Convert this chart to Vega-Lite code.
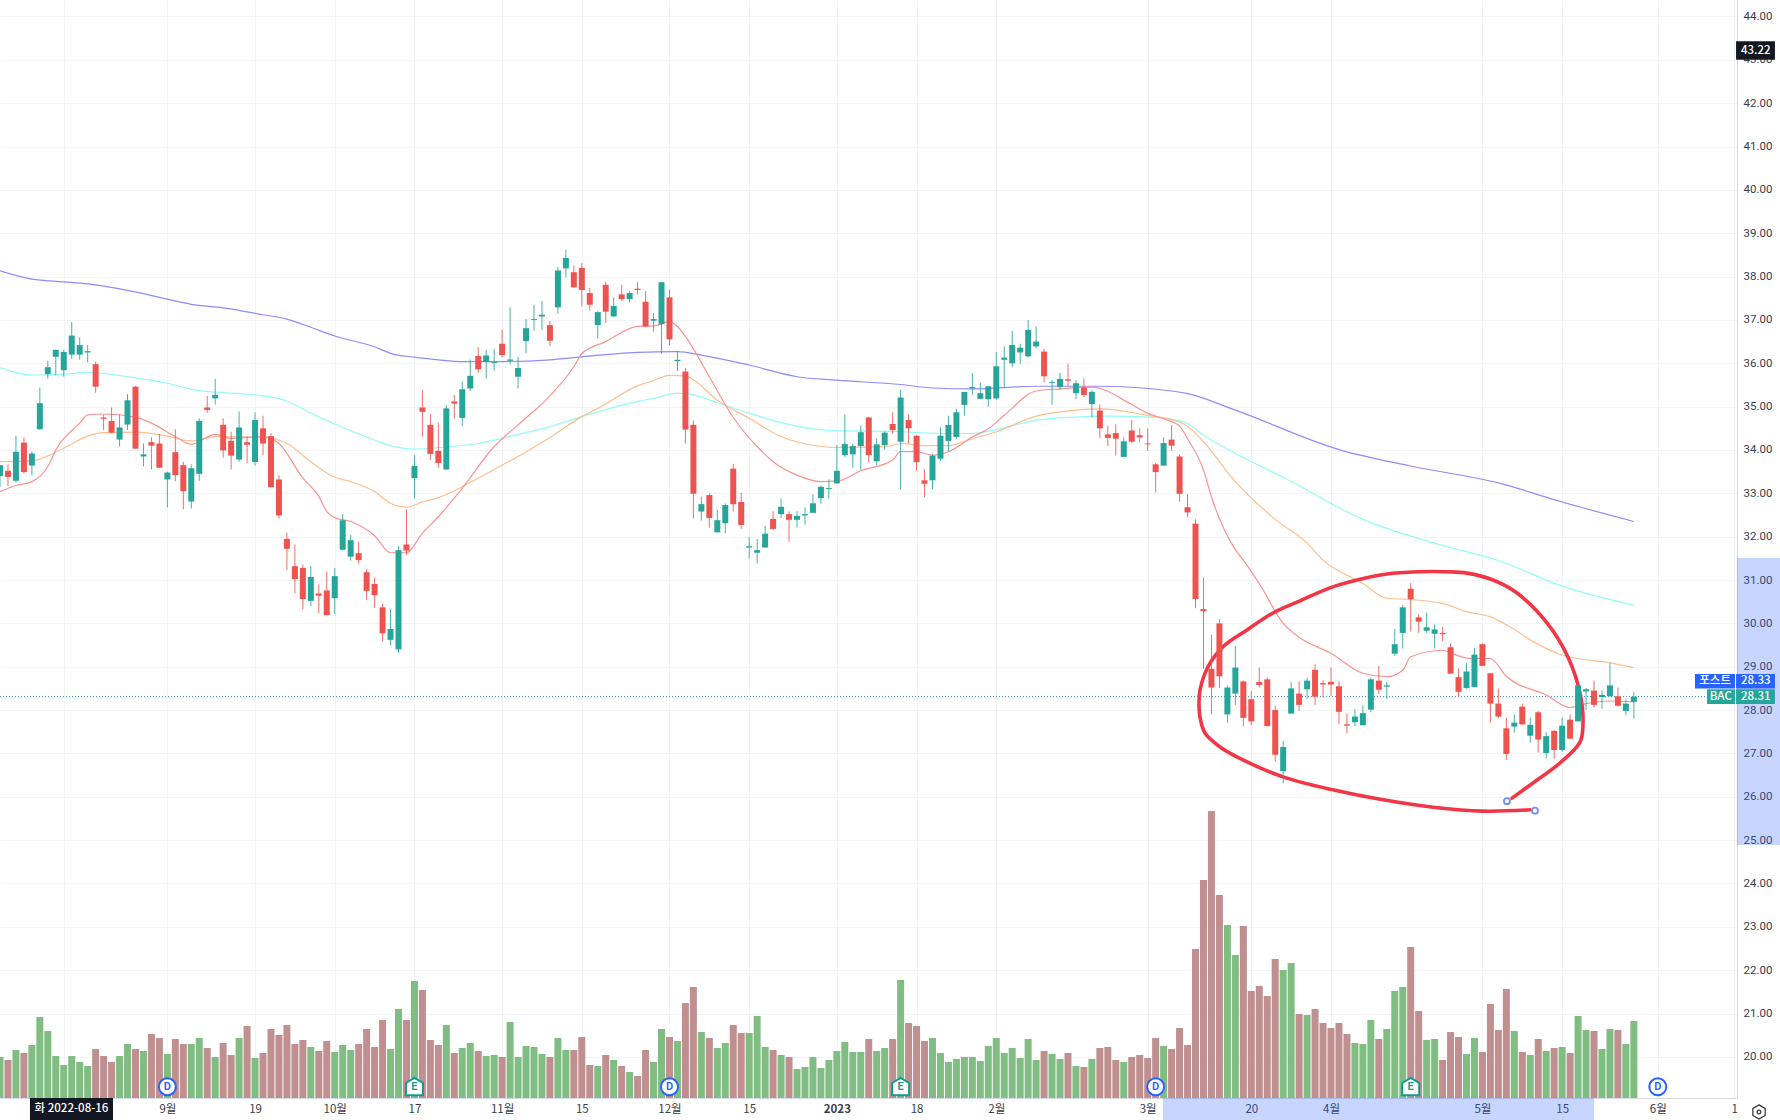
{"$schema":"https://vega.github.io/schema/vega-lite/v6.json","width":1737,"height":1098,"autosize":"none","padding":{"left":0,"top":0,"right":43,"bottom":22},"background":"#ffffff","config":{"view":{"stroke":null}},
"datasets":{
"bars":[
{"i":0,"o":33.40,"c":33.65,"h":33.65,"l":33.15,"v":41},{"i":1,"o":33.52,"c":33.38,"h":33.67,"l":33.17,"v":38},{"i":2,"o":33.29,"c":33.96,"h":34.33,"l":33.25,"v":48},{"i":3,"o":34.17,"c":33.49,"h":34.29,"l":33.46,"v":45},{"i":4,"o":33.64,"c":33.92,"h":33.96,"l":33.42,"v":53},{"i":5,"o":34.48,"c":35.08,"h":35.44,"l":34.46,"v":81},{"i":6,"o":35.75,"c":35.91,"h":36.06,"l":35.65,"v":67},{"i":7,"o":36.15,"c":36.31,"h":36.31,"l":35.72,"v":42},{"i":8,"o":35.84,"c":36.26,"h":36.31,"l":35.69,"v":33},{"i":9,"o":36.20,"c":36.64,"h":36.95,"l":36.10,"v":42},
{"i":10,"o":36.20,"c":36.42,"h":36.60,"l":36.08,"v":36},{"i":11,"o":36.25,"c":36.28,"h":36.42,"l":36.02,"v":32},{"i":12,"o":35.98,"c":35.46,"h":36.04,"l":35.32,"v":49},{"i":13,"o":34.75,"c":34.72,"h":34.81,"l":34.46,"v":42},{"i":14,"o":34.67,"c":34.40,"h":34.98,"l":34.38,"v":36},{"i":15,"o":34.24,"c":34.52,"h":34.81,"l":34.08,"v":42},{"i":16,"o":34.59,"c":35.15,"h":35.29,"l":34.46,"v":54},{"i":17,"o":35.46,"c":34.03,"h":35.48,"l":34.03,"v":49},{"i":18,"o":33.85,"c":33.90,"h":34.15,"l":33.62,"v":47},{"i":19,"o":34.18,"c":34.10,"h":34.29,"l":33.55,"v":64},
{"i":20,"o":34.15,"c":33.59,"h":34.37,"l":33.59,"v":60},{"i":21,"o":33.32,"c":33.48,"h":33.50,"l":32.68,"v":44},{"i":22,"o":33.95,"c":33.42,"h":34.48,"l":33.28,"v":59},{"i":23,"o":33.65,"c":33.05,"h":33.73,"l":32.63,"v":54},{"i":24,"o":32.81,"c":33.58,"h":33.67,"l":32.65,"v":54},{"i":25,"o":33.45,"c":34.67,"h":34.73,"l":33.29,"v":60},{"i":26,"o":34.98,"c":34.92,"h":35.25,"l":34.86,"v":50},{"i":27,"o":35.19,"c":35.27,"h":35.64,"l":35.05,"v":41},{"i":28,"o":34.58,"c":33.99,"h":34.73,"l":33.82,"v":55},{"i":29,"o":34.21,"c":33.87,"h":34.42,"l":33.55,"v":43},
{"i":30,"o":33.78,"c":34.52,"h":34.89,"l":33.73,"v":60},{"i":31,"o":34.18,"c":34.12,"h":34.31,"l":33.69,"v":72},{"i":32,"o":33.72,"c":34.69,"h":34.87,"l":33.64,"v":40},{"i":33,"o":34.50,"c":34.15,"h":34.79,"l":33.88,"v":45},{"i":34,"o":34.32,"c":33.14,"h":34.39,"l":33.14,"v":69},{"i":35,"o":33.32,"c":32.49,"h":33.42,"l":32.42,"v":63},{"i":36,"o":31.95,"c":31.72,"h":32.09,"l":31.23,"v":73},{"i":37,"o":31.32,"c":31.02,"h":31.82,"l":30.69,"v":54},{"i":38,"o":31.28,"c":30.56,"h":31.36,"l":30.32,"v":58},{"i":39,"o":30.52,"c":31.07,"h":31.32,"l":30.40,"v":51},
{"i":40,"o":30.69,"c":30.64,"h":30.90,"l":30.23,"v":47},{"i":41,"o":30.76,"c":30.19,"h":31.20,"l":30.19,"v":57},{"i":42,"o":30.58,"c":31.09,"h":31.28,"l":30.21,"v":46},{"i":43,"o":31.70,"c":32.38,"h":32.52,"l":31.68,"v":53},{"i":44,"o":31.54,"c":31.92,"h":32.04,"l":31.45,"v":48},{"i":45,"o":31.62,"c":31.46,"h":31.88,"l":31.38,"v":54},{"i":46,"o":31.18,"c":30.75,"h":31.25,"l":30.54,"v":69},{"i":47,"o":30.91,"c":30.65,"h":31.05,"l":30.36,"v":51},{"i":48,"o":30.37,"c":29.77,"h":30.46,"l":29.58,"v":78},{"i":49,"o":29.62,"c":29.87,"h":30.33,"l":29.50,"v":49},
{"i":50,"o":29.40,"c":31.69,"h":31.78,"l":29.32,"v":89},{"i":51,"o":31.82,"c":31.68,"h":32.63,"l":31.58,"v":78},{"i":52,"o":33.35,"c":33.63,"h":33.88,"l":32.88,"v":117},{"i":53,"o":34.98,"c":34.88,"h":35.38,"l":34.31,"v":108},{"i":54,"o":34.58,"c":33.91,"h":34.83,"l":33.77,"v":58},{"i":55,"o":33.98,"c":33.70,"h":34.63,"l":33.59,"v":53},{"i":56,"o":33.55,"c":34.96,"h":35.04,"l":33.55,"v":73},{"i":57,"o":35.12,"c":35.07,"h":35.27,"l":34.72,"v":45},{"i":58,"o":34.74,"c":35.40,"h":35.58,"l":34.55,"v":50},{"i":59,"o":35.42,"c":35.71,"h":36.09,"l":35.36,"v":55},
{"i":60,"o":36.17,"c":35.86,"h":36.37,"l":35.77,"v":47},{"i":61,"o":36.03,"c":36.18,"h":36.31,"l":35.65,"v":42},{"i":62,"o":36.01,"c":36.03,"h":36.33,"l":35.82,"v":43},{"i":63,"o":36.45,"c":36.19,"h":36.77,"l":36.13,"v":41},{"i":64,"o":36.06,"c":36.09,"h":37.29,"l":35.97,"v":76},{"i":65,"o":35.69,"c":35.89,"h":36.15,"l":35.42,"v":41},{"i":66,"o":36.51,"c":36.81,"h":37.02,"l":36.23,"v":52},{"i":67,"o":37.00,"c":37.02,"h":37.35,"l":36.75,"v":51},{"i":68,"o":37.08,"c":37.12,"h":37.44,"l":36.77,"v":44},{"i":69,"o":36.88,"c":36.52,"h":36.98,"l":36.40,"v":41},
{"i":70,"o":37.29,"c":38.14,"h":38.22,"l":37.14,"v":60},{"i":71,"o":38.19,"c":38.43,"h":38.62,"l":37.98,"v":48},{"i":72,"o":38.10,"c":37.75,"h":38.26,"l":37.75,"v":48},{"i":73,"o":38.20,"c":37.69,"h":38.31,"l":37.31,"v":61},{"i":74,"o":37.62,"c":37.35,"h":37.74,"l":37.21,"v":33},{"i":75,"o":36.88,"c":37.18,"h":37.21,"l":36.57,"v":32},{"i":76,"o":37.81,"c":37.19,"h":37.88,"l":36.93,"v":43},{"i":77,"o":37.08,"c":37.32,"h":37.52,"l":37.08,"v":38},{"i":78,"o":37.59,"c":37.48,"h":37.81,"l":37.44,"v":32},{"i":79,"o":37.48,"c":37.62,"h":37.66,"l":37.40,"v":26},
{"i":80,"o":37.72,"c":37.69,"h":37.87,"l":37.58,"v":22},{"i":81,"o":37.42,"c":36.85,"h":37.66,"l":36.85,"v":48},{"i":82,"o":36.98,"c":37.02,"h":37.15,"l":36.73,"v":36},{"i":83,"o":36.90,"c":37.87,"h":37.87,"l":36.22,"v":69},{"i":84,"o":37.52,"c":36.55,"h":37.70,"l":36.42,"v":61},{"i":85,"o":36.05,"c":36.08,"h":36.28,"l":35.82,"v":57},{"i":86,"o":35.81,"c":34.47,"h":35.89,"l":34.15,"v":95},{"i":87,"o":34.58,"c":32.99,"h":34.68,"l":32.42,"v":111},{"i":88,"o":32.58,"c":32.75,"h":32.92,"l":32.37,"v":66},{"i":89,"o":32.96,"c":32.43,"h":33.00,"l":32.21,"v":60},
{"i":90,"o":32.10,"c":32.38,"h":32.62,"l":32.10,"v":50},{"i":91,"o":32.31,"c":32.73,"h":32.77,"l":32.08,"v":55},{"i":92,"o":33.57,"c":32.75,"h":33.68,"l":32.58,"v":73},{"i":93,"o":32.80,"c":32.27,"h":33.01,"l":32.18,"v":65},{"i":94,"o":31.75,"c":31.78,"h":31.99,"l":31.49,"v":65},{"i":95,"o":31.63,"c":31.69,"h":31.95,"l":31.38,"v":82},{"i":96,"o":31.75,"c":32.07,"h":32.25,"l":31.75,"v":51},{"i":97,"o":32.41,"c":32.18,"h":32.59,"l":32.16,"v":48},{"i":98,"o":32.52,"c":32.69,"h":32.88,"l":32.43,"v":43},{"i":99,"o":32.52,"c":32.39,"h":32.58,"l":31.88,"v":41},
{"i":100,"o":32.39,"c":32.48,"h":32.59,"l":32.21,"v":29},{"i":101,"o":32.49,"c":32.52,"h":32.68,"l":32.28,"v":31},{"i":102,"o":32.55,"c":32.77,"h":32.98,"l":32.55,"v":41},{"i":103,"o":32.89,"c":33.15,"h":33.18,"l":32.76,"v":30},{"i":104,"o":33.10,"c":33.12,"h":33.32,"l":32.88,"v":38},{"i":105,"o":33.23,"c":33.52,"h":34.11,"l":33.22,"v":47},{"i":106,"o":33.88,"c":34.14,"h":34.82,"l":33.84,"v":56},{"i":107,"o":33.90,"c":34.09,"h":34.15,"l":33.59,"v":46},{"i":108,"o":34.09,"c":34.41,"h":34.57,"l":33.54,"v":46},{"i":109,"o":34.75,"c":33.88,"h":34.76,"l":33.71,"v":59},
{"i":110,"o":33.74,"c":34.13,"h":34.26,"l":33.65,"v":47},{"i":111,"o":34.11,"c":34.40,"h":34.43,"l":34.01,"v":50},{"i":112,"o":34.60,"c":34.46,"h":34.87,"l":34.38,"v":59},{"i":113,"o":34.19,"c":35.21,"h":35.39,"l":33.09,"v":118},{"i":114,"o":34.69,"c":34.50,"h":34.82,"l":34.15,"v":75},{"i":115,"o":34.33,"c":33.72,"h":34.35,"l":33.52,"v":72},{"i":116,"o":33.30,"c":33.22,"h":33.56,"l":32.91,"v":57},{"i":117,"o":33.30,"c":33.87,"h":33.90,"l":33.10,"v":60},{"i":118,"o":33.80,"c":34.33,"h":34.52,"l":33.75,"v":45},{"i":119,"o":34.21,"c":34.58,"h":34.79,"l":33.96,"v":36},
{"i":120,"o":34.30,"c":34.87,"h":34.95,"l":34.26,"v":39},{"i":121,"o":35.04,"c":35.34,"h":35.34,"l":34.79,"v":41},{"i":122,"o":35.42,"c":35.45,"h":35.78,"l":35.27,"v":41},{"i":123,"o":35.18,"c":35.31,"h":35.55,"l":35.17,"v":37},{"i":124,"o":35.17,"c":35.47,"h":35.47,"l":35.00,"v":52},{"i":125,"o":35.19,"c":35.93,"h":36.26,"l":35.16,"v":60},{"i":126,"o":36.08,"c":36.13,"h":36.39,"l":35.44,"v":45},{"i":127,"o":36.00,"c":36.42,"h":36.75,"l":35.91,"v":50},{"i":128,"o":36.25,"c":36.36,"h":36.45,"l":35.99,"v":40},{"i":129,"o":36.16,"c":36.77,"h":37.00,"l":36.13,"v":59},
{"i":130,"o":36.39,"c":36.50,"h":36.85,"l":36.35,"v":38},{"i":131,"o":36.27,"c":35.70,"h":36.33,"l":35.56,"v":47},{"i":132,"o":35.55,"c":35.57,"h":35.61,"l":35.04,"v":44},{"i":133,"o":35.45,"c":35.64,"h":35.78,"l":35.39,"v":39},{"i":134,"o":35.63,"c":35.60,"h":35.99,"l":35.47,"v":45},{"i":135,"o":35.31,"c":35.54,"h":35.61,"l":35.17,"v":32},{"i":136,"o":35.44,"c":35.27,"h":35.65,"l":35.22,"v":31},{"i":137,"o":35.06,"c":35.34,"h":35.38,"l":34.76,"v":39},{"i":138,"o":34.91,"c":34.50,"h":35.05,"l":34.28,"v":50},{"i":139,"o":34.36,"c":34.28,"h":34.56,"l":34.09,"v":51},
{"i":140,"o":34.39,"c":34.26,"h":34.59,"l":33.87,"v":38},{"i":141,"o":33.84,"c":34.20,"h":34.29,"l":33.84,"v":36},{"i":142,"o":34.45,"c":34.19,"h":34.69,"l":34.16,"v":41},{"i":143,"o":34.34,"c":34.29,"h":34.50,"l":34.18,"v":43},{"i":144,"o":34.15,"c":34.13,"h":34.50,"l":33.98,"v":40},{"i":145,"o":33.67,"c":33.49,"h":33.70,"l":33.02,"v":60},{"i":146,"o":33.64,"c":34.16,"h":34.29,"l":33.64,"v":52},{"i":147,"o":34.24,"c":34.10,"h":34.58,"l":33.98,"v":49},{"i":148,"o":33.85,"c":32.99,"h":33.90,"l":32.81,"v":70},{"i":149,"o":32.68,"c":32.56,"h":32.98,"l":32.45,"v":53},
{"i":150,"o":32.30,"c":30.56,"h":32.40,"l":30.35,"v":149},{"i":151,"o":30.33,"c":30.28,"h":31.06,"l":28.95,"v":218},{"i":152,"o":28.95,"c":28.52,"h":29.74,"l":27.90,"v":287},{"i":153,"o":30.00,"c":28.78,"h":30.10,"l":28.51,"v":203},{"i":154,"o":27.90,"c":28.52,"h":28.57,"l":27.71,"v":173},{"i":155,"o":28.38,"c":28.98,"h":29.48,"l":28.12,"v":143},{"i":156,"o":28.66,"c":27.82,"h":28.68,"l":27.63,"v":172},{"i":157,"o":28.25,"c":27.74,"h":28.44,"l":27.65,"v":107},{"i":158,"o":28.65,"c":28.58,"h":28.98,"l":28.52,"v":112},{"i":159,"o":28.71,"c":27.63,"h":28.75,"l":27.63,"v":102},
{"i":160,"o":28.00,"c":26.97,"h":28.10,"l":26.81,"v":139},{"i":161,"o":26.59,"c":27.15,"h":27.29,"l":26.32,"v":128},{"i":162,"o":27.92,"c":28.50,"h":28.65,"l":27.92,"v":135},{"i":163,"o":28.38,"c":28.12,"h":28.66,"l":27.98,"v":84},{"i":164,"o":28.48,"c":28.68,"h":28.75,"l":28.26,"v":83},{"i":165,"o":28.93,"c":28.31,"h":29.06,"l":28.12,"v":89},{"i":166,"o":28.62,"c":28.59,"h":28.69,"l":28.28,"v":75},{"i":167,"o":28.65,"c":28.59,"h":28.98,"l":28.33,"v":70},{"i":168,"o":28.55,"c":27.96,"h":28.66,"l":27.67,"v":75},{"i":169,"o":27.67,"c":27.64,"h":27.92,"l":27.46,"v":64},
{"i":170,"o":27.72,"c":27.85,"h":28.02,"l":27.63,"v":55},{"i":171,"o":27.65,"c":27.93,"h":28.11,"l":27.65,"v":54},{"i":172,"o":28.01,"c":28.71,"h":28.75,"l":27.95,"v":78},{"i":173,"o":28.68,"c":28.47,"h":29.02,"l":28.37,"v":59},{"i":174,"o":28.54,"c":28.57,"h":28.65,"l":28.26,"v":69},{"i":175,"o":29.30,"c":29.52,"h":29.87,"l":29.25,"v":107},{"i":176,"o":29.78,"c":30.37,"h":30.42,"l":29.42,"v":111},{"i":177,"o":30.80,"c":30.56,"h":30.93,"l":29.81,"v":151},{"i":178,"o":30.14,"c":30.04,"h":30.21,"l":29.78,"v":87},{"i":179,"o":29.83,"c":29.91,"h":30.25,"l":29.78,"v":58},
{"i":180,"o":29.76,"c":29.86,"h":29.98,"l":29.42,"v":59},{"i":181,"o":29.78,"c":29.75,"h":29.92,"l":29.59,"v":38},{"i":182,"o":29.45,"c":28.84,"h":29.54,"l":28.84,"v":66},{"i":183,"o":28.76,"c":28.42,"h":28.96,"l":28.31,"v":61},{"i":184,"o":28.51,"c":28.89,"h":29.08,"l":28.49,"v":44},{"i":185,"o":28.53,"c":29.28,"h":29.43,"l":28.53,"v":60},{"i":186,"o":29.52,"c":29.02,"h":29.54,"l":29.02,"v":46},{"i":187,"o":28.85,"c":28.15,"h":28.85,"l":27.71,"v":94},{"i":188,"o":28.15,"c":27.85,"h":28.50,"l":27.82,"v":68},{"i":189,"o":27.58,"c":26.99,"h":27.82,"l":26.85,"v":109},
{"i":190,"o":27.62,"c":27.71,"h":27.90,"l":27.48,"v":67},{"i":191,"o":28.08,"c":27.67,"h":28.15,"l":27.67,"v":46},{"i":192,"o":27.41,"c":27.66,"h":27.83,"l":27.25,"v":43},{"i":193,"o":27.95,"c":27.32,"h":27.98,"l":27.02,"v":59},{"i":194,"o":27.01,"c":27.40,"h":27.49,"l":26.88,"v":47},{"i":195,"o":27.52,"c":27.08,"h":27.54,"l":26.88,"v":50},{"i":196,"o":27.08,"c":27.64,"h":27.83,"l":27.04,"v":51},{"i":197,"o":27.78,"c":27.34,"h":27.90,"l":27.34,"v":45},{"i":198,"o":27.74,"c":28.57,"h":28.58,"l":27.74,"v":82},{"i":199,"o":28.43,"c":28.48,"h":28.51,"l":28.00,"v":68},
{"i":200,"o":28.45,"c":28.12,"h":28.68,"l":28.05,"v":67},{"i":201,"o":28.30,"c":28.35,"h":28.45,"l":28.03,"v":49},{"i":202,"o":28.32,"c":28.57,"h":29.08,"l":28.31,"v":69},{"i":203,"o":28.32,"c":28.10,"h":28.52,"l":28.08,"v":68},{"i":204,"o":27.98,"c":28.15,"h":28.25,"l":27.88,"v":54},{"i":205,"o":28.19,"c":28.31,"h":28.42,"l":27.80,"v":77}],
"ma":[
{"s":"200","i":0,"p":38.13},{"s":"200","i":4,"p":37.94},{"s":"200","i":8,"p":37.88},{"s":"200","i":11,"p":37.83},{"s":"200","i":16,"p":37.68},{"s":"200","i":21,"p":37.48},{"s":"200","i":24,"p":37.36},{"s":"200","i":28,"p":37.28},{"s":"200","i":33,"p":37.12},{"s":"200","i":36,"p":37.02},{"s":"200","i":39,"p":36.83},{"s":"200","i":42,"p":36.63},{"s":"200","i":47,"p":36.38},{"s":"200","i":49,"p":36.23},{"s":"200","i":52,"p":36.14},{"s":"200","i":55,"p":36.08},{"s":"200","i":58,"p":36.04},{"s":"200","i":63,"p":36.04},{"s":"200","i":69,"p":36.08},{"s":"200","i":73,"p":36.15},{"s":"200","i":80,"p":36.25},{"s":"200","i":85,"p":36.27},{"s":"200","i":88,"p":36.19},{"s":"200","i":94,"p":35.96},{"s":"200","i":100,"p":35.69},{"s":"200","i":105,"p":35.61},{"s":"200","i":113,"p":35.51},{"s":"200","i":117,"p":35.43},{"s":"200","i":122,"p":35.41},{"s":"200","i":130,"p":35.47},{"s":"200","i":138,"p":35.47},{"s":"200","i":147,"p":35.36},{"s":"200","i":149,"p":35.30},{"s":"200","i":155,"p":34.92},{"s":"200","i":168,"p":34.01},{"s":"200","i":177,"p":33.63},{"s":"200","i":188,"p":33.24},{"s":"200","i":196,"p":32.8},{"s":"200","i":205,"p":32.35},
{"s":"100","i":0,"p":35.90},{"s":"100","i":4,"p":35.73},{"s":"100","i":8,"p":35.75},{"s":"100","i":11,"p":35.79},{"s":"100","i":16,"p":35.69},{"s":"100","i":21,"p":35.54},{"s":"100","i":24,"p":35.40},{"s":"100","i":29,"p":35.31},{"s":"100","i":33,"p":35.25},{"s":"100","i":36,"p":35.13},{"s":"100","i":39,"p":34.85},{"s":"100","i":42,"p":34.60},{"s":"100","i":47,"p":34.23},{"s":"100","i":49,"p":34.10},{"s":"100","i":52,"p":34.02},{"s":"100","i":56,"p":34.07},{"s":"100","i":60,"p":34.15},{"s":"100","i":65,"p":34.36},{"s":"100","i":69,"p":34.54},{"s":"100","i":73,"p":34.77},{"s":"100","i":80,"p":35.12},{"s":"100","i":82,"p":35.19},{"s":"100","i":85,"p":35.31},{"s":"100","i":87,"p":35.27},{"s":"100","i":90,"p":35.09},{"s":"100","i":94,"p":34.85},{"s":"100","i":98,"p":34.63},{"s":"100","i":105,"p":34.44},{"s":"100","i":112,"p":34.43},{"s":"100","i":118,"p":34.38},{"s":"100","i":122,"p":34.38},{"s":"100","i":125,"p":34.47},{"s":"100","i":130,"p":34.69},{"s":"100","i":135,"p":34.76},{"s":"100","i":139,"p":34.78},{"s":"100","i":145,"p":34.75},{"s":"100","i":149,"p":34.61},{"s":"100","i":151,"p":34.34},{"s":"100","i":155,"p":33.92},{"s":"100","i":161,"p":33.37},{"s":"100","i":171,"p":32.4},{"s":"100","i":180,"p":31.85},{"s":"100","i":188,"p":31.45},{"s":"100","i":196,"p":30.86},{"s":"100","i":205,"p":30.42},
{"s":"50","i":0,"p":33.73},{"s":"50","i":4,"p":33.75},{"s":"50","i":8,"p":34.04},{"s":"50","i":11,"p":34.32},{"s":"50","i":13,"p":34.40},{"s":"50","i":17,"p":34.41},{"s":"50","i":21,"p":34.32},{"s":"50","i":24,"p":34.21},{"s":"50","i":27,"p":34.31},{"s":"50","i":33,"p":34.29},{"s":"50","i":36,"p":34.15},{"s":"50","i":39,"p":33.73},{"s":"50","i":42,"p":33.37},{"s":"50","i":44,"p":33.27},{"s":"50","i":47,"p":33.04},{"s":"50","i":49,"p":32.77},{"s":"50","i":51,"p":32.68},{"s":"50","i":53,"p":32.80},{"s":"50","i":55,"p":32.90},{"s":"50","i":60,"p":33.35},{"s":"50","i":63,"p":33.65},{"s":"50","i":65,"p":33.85},{"s":"50","i":69,"p":34.29},{"s":"50","i":73,"p":34.77},{"s":"50","i":75,"p":34.96},{"s":"50","i":80,"p":35.48},{"s":"50","i":82,"p":35.60},{"s":"50","i":84,"p":35.72},{"s":"50","i":86,"p":35.71},{"s":"50","i":87,"p":35.62},{"s":"50","i":90,"p":35.15},{"s":"50","i":94,"p":34.73},{"s":"50","i":98,"p":34.31},{"s":"50","i":103,"p":34.08},{"s":"50","i":105,"p":34.06},{"s":"50","i":111,"p":34.07},{"s":"50","i":113,"p":34.15},{"s":"50","i":116,"p":34.10},{"s":"50","i":119,"p":34.10},{"s":"50","i":122,"p":34.26},{"s":"50","i":125,"p":34.42},{"s":"50","i":130,"p":34.78},{"s":"50","i":135,"p":34.92},{"s":"50","i":138,"p":34.95},{"s":"50","i":144,"p":34.80},{"s":"50","i":147,"p":34.70},{"s":"50","i":149,"p":34.55},{"s":"50","i":151,"p":34.19},{"s":"50","i":155,"p":33.27},{"s":"50","i":160,"p":32.4},{"s":"50","i":164,"p":31.85},{"s":"50","i":166,"p":31.46},{"s":"50","i":171,"p":30.92},{"s":"50","i":174,"p":30.58},{"s":"50","i":177,"p":30.55},{"s":"50","i":181,"p":30.46},{"s":"50","i":184,"p":30.27},{"s":"50","i":187,"p":30.15},{"s":"50","i":190,"p":29.86},{"s":"50","i":192,"p":29.62},{"s":"50","i":196,"p":29.27},{"s":"50","i":202,"p":29.09},{"s":"50","i":205,"p":28.98},
{"s":"20","i":0,"p":33.04},{"s":"20","i":2,"p":33.18},{"s":"20","i":4,"p":33.27},{"s":"20","i":6,"p":33.62},{"s":"20","i":7,"p":34.0},{"s":"20","i":10,"p":34.62},{"s":"20","i":11,"p":34.81},{"s":"20","i":13,"p":34.83},{"s":"20","i":17,"p":34.76},{"s":"20","i":19,"p":34.62},{"s":"20","i":22,"p":34.31},{"s":"20","i":24,"p":34.13},{"s":"20","i":27,"p":34.36},{"s":"20","i":29,"p":34.27},{"s":"20","i":33,"p":34.31},{"s":"20","i":35,"p":34.15},{"s":"20","i":38,"p":33.35},{"s":"20","i":40,"p":32.93},{"s":"20","i":41,"p":32.58},{"s":"20","i":42,"p":32.44},{"s":"20","i":44,"p":32.35},{"s":"20","i":47,"p":32.02},{"s":"20","i":49,"p":31.63},{"s":"20","i":51,"p":31.63},{"s":"20","i":53,"p":32.08},{"s":"20","i":55,"p":32.46},{"s":"20","i":58,"p":33.12},{"s":"20","i":62,"p":34.08},{"s":"20","i":65,"p":34.58},{"s":"20","i":69,"p":35.25},{"s":"20","i":72,"p":35.92},{"s":"20","i":73,"p":36.22},{"s":"20","i":76,"p":36.5},{"s":"20","i":80,"p":36.85},{"s":"20","i":82,"p":36.86},{"s":"20","i":84,"p":36.96},{"s":"20","i":85,"p":36.85},{"s":"20","i":86,"p":36.62},{"s":"20","i":89,"p":35.69},{"s":"20","i":92,"p":34.75},{"s":"20","i":95,"p":34.08},{"s":"20","i":97,"p":33.73},{"s":"20","i":100,"p":33.42},{"s":"20","i":103,"p":33.27},{"s":"20","i":105,"p":33.28},{"s":"20","i":108,"p":33.52},{"s":"20","i":112,"p":33.77},{"s":"20","i":113,"p":33.96},{"s":"20","i":115,"p":33.96},{"s":"20","i":117,"p":33.88},{"s":"20","i":119,"p":33.96},{"s":"20","i":122,"p":34.30},{"s":"20","i":124,"p":34.49},{"s":"20","i":126,"p":34.80},{"s":"20","i":130,"p":35.36},{"s":"20","i":133,"p":35.41},{"s":"20","i":137,"p":35.45},{"s":"20","i":142,"p":35.05},{"s":"20","i":144,"p":34.85},{"s":"20","i":146,"p":34.72},{"s":"20","i":148,"p":34.55},{"s":"20","i":149,"p":34.26},{"s":"20","i":151,"p":33.54},{"s":"20","i":152,"p":32.92},{"s":"20","i":155,"p":31.70},{"s":"20","i":156,"p":31.46},{"s":"20","i":158,"p":30.92},{"s":"20","i":161,"p":30.0},{"s":"20","i":163,"p":29.68},{"s":"20","i":167,"p":29.31},{"s":"20","i":171,"p":28.85},{"s":"20","i":174,"p":28.77},{"s":"20","i":176,"p":28.92},{"s":"20","i":177,"p":29.23},{"s":"20","i":181,"p":29.38},{"s":"20","i":183,"p":29.25},{"s":"20","i":184,"p":29.2},{"s":"20","i":187,"p":29.19},{"s":"20","i":189,"p":28.78},{"s":"20","i":194,"p":28.35},{"s":"20","i":197,"p":28.06},{"s":"20","i":199,"p":28.15},{"s":"20","i":202,"p":28.21},{"s":"20","i":205,"p":28.19}],
"brush":[{"seq":1,"i":189.71,"p":25.97},{"seq":2,"i":192.35,"p":26.32},{"seq":3,"i":195.73,"p":26.78},{"seq":4,"i":198.24,"p":27.26},{"seq":5,"i":198.62,"p":27.70},{"seq":6,"i":198.24,"p":28.39},{"seq":7,"i":196.74,"p":29.22},{"seq":8,"i":194.1,"p":30.01},{"seq":9,"i":190.34,"p":30.70},{"seq":10,"i":187.33,"p":31.0},{"seq":11,"i":184.07,"p":31.16},{"seq":12,"i":181.56,"p":31.19},{"seq":13,"i":177.8,"p":31.19},{"seq":14,"i":174.03,"p":31.14},{"seq":15,"i":170.26,"p":31.0},{"seq":16,"i":166.88,"p":30.82},{"seq":17,"i":163.11,"p":30.52},{"seq":18,"i":159.72,"p":30.24},{"seq":19,"i":156.46,"p":29.85},{"seq":20,"i":153.45,"p":29.46},{"seq":21,"i":151.57,"p":29.0},{"seq":22,"i":150.56,"p":28.46},{"seq":23,"i":150.44,"p":28.16},{"seq":24,"i":150.56,"p":27.84},{"seq":25,"i":151.19,"p":27.47},{"seq":26,"i":153.07,"p":27.15},{"seq":27,"i":155.96,"p":26.85},{"seq":28,"i":160.98,"p":26.46},{"seq":29,"i":167.25,"p":26.16},{"seq":30,"i":173.53,"p":25.93},{"seq":31,"i":179.8,"p":25.76},{"seq":32,"i":186.07,"p":25.67},{"seq":33,"i":191.97,"p":25.70}],
"handles":[{"i":189.08,"p":25.90},{"i":192.6,"p":25.68}],
"last":[{"i":0,"p":28.31},{"i":214.1,"p":28.31}],
"boxes":[{"kind":"band","i":217.94,"i2":223.4,"p":31.51,"p2":24.89},{"kind":"band","i":145.9,"i2":200,"p":19.052,"p2":18.54},{"kind":"dark","i":3.76,"i2":14.18,"p":19.052,"p2":18.54},{"kind":"dark","i":217.82,"i2":222.7,"p":43.43,"p2":43.0},{"kind":"blue","i":212.67,"i2":217.69,"p":28.83,"p2":28.5},{"kind":"blue","i":217.82,"i2":222.7,"p":28.83,"p2":28.5},{"kind":"green","i":214.18,"i2":217.69,"p":28.48,"p2":28.14},{"kind":"green","i":217.82,"i2":222.7,"p":28.48,"p2":28.14}],
"tags":[{"label":"화 2022-08-16","i":8.97,"p":18.79},{"label":"43.22","i":220.3,"p":43.21},{"label":"포스트","i":215.2,"p":28.66},{"label":"28.33","i":220.3,"p":28.66},{"label":"BAC","i":215.9,"p":28.31},{"label":"28.31","i":220.3,"p":28.31}],
"dividends":[{"label":"D","i":21,"p":19.31},{"label":"D","i":84,"p":19.31},{"label":"D","i":145,"p":19.31},{"label":"D","i":208,"p":19.31}],
"earnings":[{"label":"E","i":52,"p":19.31},{"label":"E","i":113,"p":19.31},{"label":"E","i":177,"p":19.31}],
"gear":[{"i":220.7,"p":18.73}]
},
"encoding":{"x":{"field":"i","type":"quantitative","scale":{"domain":[0,217.94],"nice":false,"zero":false,"padding":0},"axis":{"title":null,"values":[8,21,32,42,52,63,73,84,94,105,115,125,144,157,167,186,196,208,217.6],"grid":true,"gridColor":"#f0f3fa","gridWidth":1,"ticks":false,"domainColor":"#d6d9e2","labelFont":"Noto Sans CJK KR","labelFontSize":11.5,"labelColor":"#3a3d47","labelPadding":5,"labelOverlap":false,"labelFlush":false,"labelBound":false,"labelFontWeight":{"condition":{"test":"datum.value === 105","value":600},"value":400},"labelExpr":"({'21':'9월','32':'19','42':'10월','52':'17','63':'11월','73':'15','84':'12월','94':'15','105':'2023','115':'18','125':'2월','144':'3월','157':'20','167':'4월','186':'5월','196':'15','208':'6월','217.6':'1'})[''+datum.value] || ''"}}},
"layer":[
{"data":{"name":"bars"},"mark":{"type":"bar","size":7,"orient":"vertical"},"encoding":{"y":{"field":"v","type":"quantitative","scale":{"domain":[0,1098],"nice":false,"zero":true},"axis":null},"color":{"condition":{"test":"datum.c >= datum.o","value":"#80bd83"},"value":"#c08f8f"}}},
{"encoding":{"y":{"field":"p","type":"quantitative","scale":{"domain":[19.052,44.38],"nice":false,"zero":false},"axis":{"title":null,"orient":"right","values":[20,21,22,23,24,25,26,27,28,29,30,31,32,33,34,35,36,37,38,39,40,41,42,43,44],"format":".2f","grid":true,"gridColor":"#f2f4f8","gridWidth":1,"ticks":false,"domainColor":"#d6d9e2","labelFont":"Roboto","labelFontSize":11.5,"labelColor":"#3a3d47","labelPadding":6,"labelOverlap":false,"labelFlush":false,"labelBound":false,"labelAlign":"left"}}},
"layer":[
{"data":{"name":"boxes"},"mark":{"type":"rect"},"encoding":{"x2":{"field":"i2"},"y2":{"field":"p2"},"fill":{"field":"kind","type":"nominal","legend":null,"scale":{"domain":["band","dark","blue","green"],"range":["rgba(41,98,255,0.26)","#131722","#2962ff","#26a69a"]}}}},
{"data":{"name":"last"},"mark":{"type":"line","color":"#2389c9","strokeWidth":1,"strokeDash":[1,2]}},
{"data":{"name":"ma"},"mark":{"type":"line","strokeWidth":1.2,"interpolate":"monotone"},"encoding":{"color":{"field":"s","type":"nominal","legend":null,"scale":{"domain":["200","100","50","20"],"range":["#8f8bfb","#93fbf5","#ffbe8c","#fb9292"]}}}},
{"data":{"name":"brush"},"mark":{"type":"line","color":"#f23645","strokeWidth":3.6,"interpolate":"catmull-rom","strokeCap":"round"},"encoding":{"order":{"field":"seq","type":"quantitative"}}},
{"data":{"name":"bars"},"mark":{"type":"rule","strokeWidth":1,"opacity":0.85},"encoding":{"y":{"field":"l","type":"quantitative"},"y2":{"field":"h"},"color":{"condition":{"test":"datum.c >= datum.o","value":"#26a69a"},"value":"#ef5350"}}},
{"data":{"name":"bars"},"mark":{"type":"bar","size":6,"orient":"vertical"},"encoding":{"y":{"field":"o","type":"quantitative"},"y2":{"field":"c"},"color":{"condition":{"test":"datum.c >= datum.o","value":"#26a69a"},"value":"#ef5350"}}},
{"data":{"name":"handles"},"mark":{"type":"point","fill":"#ffffff","stroke":"#6f8ef7","strokeWidth":1.8,"size":36,"opacity":1}},
{"data":{"name":"tags"},"mark":{"type":"text","color":"#ffffff","font":"Noto Sans CJK KR","fontSize":11.5,"fontWeight":500,"align":"center","baseline":"middle"},"encoding":{"text":{"field":"label","type":"nominal"}}},
{"data":{"name":"dividends"},"mark":{"type":"point","shape":"circle","fill":"#ffffff","stroke":"#2962ff","strokeWidth":2,"size":289,"opacity":1}},
{"data":{"name":"dividends"},"mark":{"type":"text","color":"#2962ff","font":"Roboto","fontSize":11,"fontWeight":600,"align":"center","baseline":"middle"},"encoding":{"text":{"field":"label","type":"nominal"}}},
{"data":{"name":"earnings"},"mark":{"type":"point","shape":"M-1,-0.45 L0,-1.05 L1,-0.45 L1,1 L-1,1 Z","fill":"#ffffff","stroke":"#0f9d8a","strokeWidth":2,"size":289,"opacity":1}},
{"data":{"name":"earnings"},"mark":{"type":"text","color":"#0f9d8a","font":"Roboto","fontSize":11,"fontWeight":600,"align":"center","baseline":"middle"},"encoding":{"text":{"field":"label","type":"nominal"}}},
{"data":{"name":"gear"},"mark":{"type":"point","shape":"M0,-1 L0.87,-0.5 L0.87,0.5 L0,1 L-0.87,0.5 L-0.87,-0.5 Z","fill":"#ffffff","stroke":"#2a2e39","strokeWidth":1.2,"size":200,"opacity":1}},
{"data":{"name":"gear"},"mark":{"type":"point","shape":"circle","fill":"#ffffff","stroke":"#2a2e39","strokeWidth":1.2,"size":14,"opacity":1}}
]}
],
"resolve":{"scale":{"y":"independent"},"axis":{"y":"independent"}}}
